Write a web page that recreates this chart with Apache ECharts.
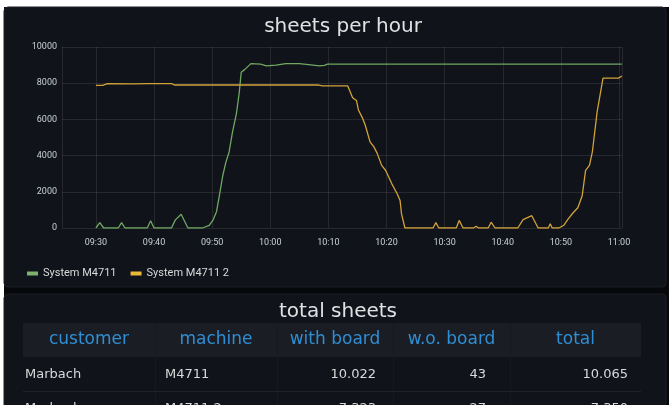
<!DOCTYPE html>
<html>
<head>
<meta charset="utf-8">
<script src="https://cdn.jsdelivr.net/npm/echarts@6/dist/echarts.min.js"></script>
<style>
html,body{margin:0;padding:0;background:#fff;}
#c{width:669px;height:405px;}
</style>
</head>
<body>
<div id="c"></div>
<script>
// ---- chart data ----
const chartTitle = "sheets per hour";
const seriesNames = ["System M4711", "System M4711 2"];
const greenTimes = ["09:30:00","09:30:40","09:31:20","09:33:50","09:34:25","09:35:00","09:38:50","09:39:25","09:40:00","09:43:00","09:43:40","09:44:40","09:45:50","09:48:20","09:49:30","09:50:10","09:50:45","09:51:15","09:51:50","09:52:20","09:52:55","09:53:30","09:54:10","09:54:40","09:55:00","09:55:35","09:56:40","09:58:20","09:59:20","10:01:00","10:02:40","10:05:00","10:07:20","10:08:25","10:09:20","10:09:50","11:00:30"];
const greenValues = [0,300,0,0,300,0,0,400,0,0,450,760,0,0,150,450,900,1800,2900,3600,4200,5300,6300,7500,8600,8750,9080,9050,8960,9000,9080,9080,9000,8960,8980,9050,9050];
const yellowTimes = ["09:30:00","09:31:10","09:32:00","09:36:30","09:39:00","09:43:00","09:43:30","10:08:20","10:09:00","10:13:20","10:14:10","10:14:50","10:15:10","10:15:50","10:16:20","10:17:10","10:17:50","10:18:25","10:19:10","10:19:50","10:20:55","10:21:50","10:22:20","10:22:35","10:23:10","10:28:00","10:28:30","10:29:00","10:32:00","10:32:30","10:33:10","10:35:00","10:35:25","10:35:50","10:37:30","10:38:00","10:38:40","10:42:35","10:43:30","10:45:00","10:46:05","10:47:50","10:48:10","10:48:30","10:49:40","10:50:30","10:51:10","10:52:00","10:52:55","10:53:40","10:54:15","10:54:55","10:55:25","10:56:15","10:57:15","10:59:55","11:00:30"];
const yellowValues = [7880,7880,7980,7960,7980,7980,7900,7900,7850,7850,7200,7040,6520,6100,5690,4760,4480,4110,3460,3190,2440,1890,1520,780,0,0,300,0,0,420,0,0,100,0,0,320,0,0,460,680,0,0,240,0,0,150,460,800,1120,1780,3180,3460,4200,6440,8280,8280,8400];
const axisStart = "09:24:10";
const axisEnd = "11:00:31";
const yTicks = [0,2000,4000,6000,8000,10000];

// ---- table data ----
const tableTitle = "total sheets";
const tableHeaders = ["customer","machine","with board","w.o. board","total"];
const tableRow1 = ["Marbach","M4711","10.022","43","10.065"];
const tableRow2 = ["Marbach","M4711 2","7.323","27","7.350"];

function toTs(s){
  const p = s.split(":").map(Number);
  return new Date(2020,0,1,p[0],p[1],p[2]||0).getTime();
}
const greenData = greenTimes.map((t,i)=>[toTs(t), greenValues[i]]);
const yellowData = yellowTimes.map((t,i)=>[toTs(t), yellowValues[i]]);

const FONT = "Roboto, 'DejaVu Sans', sans-serif";
const TITLEFONT = "'DejaVu Sans', sans-serif";

// table layout
const colEdges = [23,155,277,393,510,641];
const cellAlign = ["left","left","right","right","right"];
const cellX = [25,165,376,486,628];
const g = [];
g.push({type:'rect', z:-20, shape:{x:0,y:0,width:669,height:405}, style:{fill:'#fff'}});
g.push({type:'rect', z:-19, shape:{x:4,y:7,width:665,height:398}, style:{fill:'#07080b'}});
g.push({type:'rect', z:-18, shape:{x:4,y:7,width:662,height:280,r:4}, style:{fill:'#11131a', stroke:'#1b1e25', lineWidth:1}});
g.push({type:'rect', z:-18, shape:{x:4,y:294,width:662,height:120,r:4}, style:{fill:'#11131a', stroke:'#1b1e25', lineWidth:1}});
g.push({type:'text', z:5, style:{text:tableTitle, x:338, y:312, textAlign:'center', textVerticalAlign:'middle', fill:'#e0e1e2', font:"20px "+TITLEFONT}});
g.push({type:'rect', z:-17, shape:{x:23,y:323,width:618,height:34}, style:{fill:'#1a1d24'}});
for(let i=1;i<colEdges.length-1;i++){
  g.push({type:'line', z:-16, shape:{x1:colEdges[i]+0.5,y1:323,x2:colEdges[i]+0.5,y2:405}, style:{stroke:'#161920', lineWidth:1}});
}
g.push({type:'line', z:-16, shape:{x1:23,y1:391.5,x2:641,y2:391.5}, style:{stroke:'#1e2128', lineWidth:1}});
tableHeaders.forEach((h,i)=>{
  g.push({type:'text', z:5, style:{text:h, x:(colEdges[i]+colEdges[i+1])/2, y:340, textAlign:'center', textVerticalAlign:'middle', fill:'#2f8ed4', font:"17px "+TITLEFONT}});
});
[tableRow1, tableRow2].forEach((row,r)=>{
  row.forEach((v,i)=>{
    g.push({type:'text', z:5, style:{text:v, x:cellX[i], y:375 + r*34, textAlign:cellAlign[i], textVerticalAlign:'middle', fill:'#d8d9da', font:"13px "+TITLEFONT}});
  });
});

const chart = echarts.init(document.getElementById('c'), null, {renderer:'canvas'});
chart.setOption({
  backgroundColor:'transparent',
  animation:false,
  title:{text:chartTitle, left:338, top:12, textAlign:'center',
    textStyle:{color:'#e0e1e2', fontSize:20, fontWeight:'normal', fontFamily:TITLEFONT}},
  grid:{left:62, right:47, top:47, bottom:177, containLabel:false},
  legend:{
    left:22, top:263, icon:'rect', itemWidth:11, itemHeight:4, itemGap:14,
    textStyle:{color:'#d8d9da', fontSize:11, fontFamily:FONT},
    data:seriesNames
  },
  xAxis:{
    type:'time', min:toTs(axisStart), max:toTs(axisEnd),
    minInterval:610000, maxInterval:610000,
    axisLine:{show:false},
    axisTick:{show:false},
    splitLine:{show:true, lineStyle:{color:'rgba(255,255,255,0.09)', width:1}},
    axisLabel:{color:'#c7d0d9', fontSize:9, fontFamily:FONT, margin:10,
      showMinLabel:false, showMaxLabel:false,
      formatter:function(v){const d=new Date(v);return String(d.getHours()).padStart(2,'0')+':'+String(d.getMinutes()).padStart(2,'0');}}
  },
  yAxis:{
    type:'value', min:yTicks[0], max:yTicks[yTicks.length-1], interval:2000,
    axisLine:{show:false}, axisTick:{show:false},
    splitLine:{show:true, lineStyle:{color:'rgba(255,255,255,0.09)', width:1}},
    axisLabel:{color:'#c7d0d9', fontSize:9, fontFamily:FONT, margin:5, formatter:function(v){return String(v);}}
  },
  series:[
    {name:seriesNames[0], type:'line', data:greenData, showSymbol:false, symbol:'none',
      lineStyle:{color:'#6fa862', width:1.3}, itemStyle:{color:'#7EB26D'}, z:3},
    {name:seriesNames[1], type:'line', data:yellowData, showSymbol:false, symbol:'none',
      lineStyle:{color:'#d1a23a', width:1.3}, itemStyle:{color:'#EAB839'}, z:4}
  ],
  graphic:g
});
</script>
</body>
</html>
